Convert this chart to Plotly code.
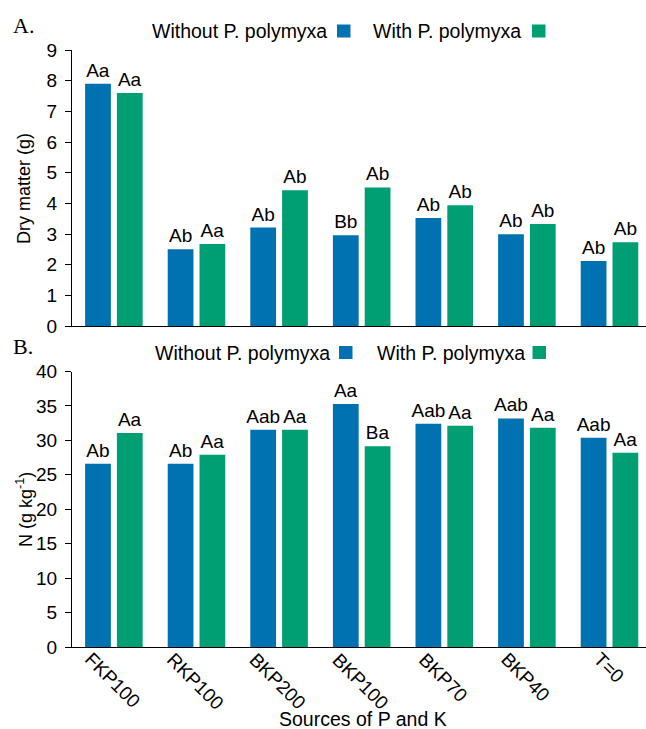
import plotly.graph_objects as go

# Treatments (sources of P and K)
sources = ["FKP100", "RKP100", "BKP200", "BKP100", "BKP70", "BKP40", "T=0"]

# Panel A: dry matter (g)
dm_without = [7.9, 2.5, 3.21, 2.96, 3.52, 2.99, 2.12]
dm_with = [7.6, 2.67, 4.43, 4.52, 3.94, 3.33, 2.73]
dm_lbl_without = ["Aa", "Ab", "Ab", "Bb", "Ab", "Ab", "Ab"]
dm_lbl_with = ["Aa", "Aa", "Ab", "Ab", "Ab", "Ab", "Ab"]

# Panel B: N content (g kg-1)
n_without = [26.6, 26.6, 31.55, 35.27, 32.42, 33.19, 30.39]
n_with = [31.07, 27.93, 31.55, 29.13, 32.13, 31.84, 28.22]
n_lbl_without = ["Ab", "Ab", "Aab", "Aa", "Aab", "Aab", "Aab"]
n_lbl_with = ["Aa", "Aa", "Aa", "Ba", "Aa", "Aa", "Aa"]

series_names = ["Without P. polymyxa", "With P. polymyxa"]

BLUE = "#0072B2"
GREEN = "#009E73"
FONT = "Liberation Sans, Arial, sans-serif"
SERIF = "Liberation Serif, Times New Roman, serif"

W, H = 646, 729
L, R = 72, 646  # plot area horizontal extent in pixels


def fx(p):
    return (p - L) / (R - L)


def fy(p):
    return (H - p) / H


fig = go.Figure()

panels = [
    ("x", "y", dm_without, dm_with, dm_lbl_without, dm_lbl_with),
    ("x2", "y2", n_without, n_with, n_lbl_without, n_lbl_with),
]
for xa, ya, v0, v1, t0, t1 in panels:
    for vals, lbls, color, name in ((v0, t0, BLUE, series_names[0]),
                                    (v1, t1, GREEN, series_names[1])):
        fig.add_trace(go.Bar(
            x=sources, y=vals, text=lbls, name=name,
            marker=dict(color=color, line=dict(width=0)),
            textposition="outside", constraintext="none", cliponaxis=False,
            textfont=dict(family=FONT, size=19, color="black"),
            xaxis=xa, yaxis=ya, showlegend=False,
        ))

# category index range so group centres sit 82.6 px apart
xrange = [-0.507, 6.442]
axis_common = dict(showline=True, linecolor="black", linewidth=1,
                   showgrid=False, zeroline=False, automargin=False)
yaxis_common = dict(ticks="outside", ticklen=6, tickcolor="black", tickwidth=1,
                    ticklabelstandoff=4, tickfont=dict(size=19), **axis_common)

fig.update_layout(
    width=W, height=H,
    margin=dict(l=L, r=W - R, t=0, b=0, autoexpand=False),
    plot_bgcolor="white", paper_bgcolor="white",
    barmode="group", bargap=0.23, bargroupgap=0.19,
    font=dict(family=FONT, color="black"),
    showlegend=False,
    xaxis=dict(domain=[0, 1], anchor="y", range=xrange, showticklabels=False,
               ticks="", **axis_common),
    yaxis=dict(domain=[fy(326), fy(50)], anchor="x", range=[0, 9], dtick=1,
               **yaxis_common),
    xaxis2=dict(domain=[0, 1], anchor="y2", range=xrange, showticklabels=False,
                ticks="", **axis_common),
    yaxis2=dict(domain=[fy(647), fy(371.5)], anchor="x2", range=[0, 40], dtick=5,
                **yaxis_common),
)

ann = []
shapes = []

# Legends: label text followed by a colour swatch
for ycen, items in (
    (31, [(150, 337, series_names[0], BLUE), (371, 532, series_names[1], GREEN)]),
    (352.5, [(153, 339, series_names[0], BLUE), (375, 532.5, series_names[1], GREEN)]),
):
    for tx, sx, label, color in items:
        ann.append(dict(text=label, x=fx(tx), y=fy(ycen), xref="paper", yref="paper",
                        xanchor="left", yanchor="middle", showarrow=False,
                        font=dict(size=19.5, color="black")))
        shapes.append(dict(type="rect", xref="paper", yref="paper",
                           x0=fx(sx), x1=fx(sx + 13.5), y0=fy(ycen + 6.5), y1=fy(ycen - 6.5),
                           fillcolor=color, line=dict(width=0)))

# Panel letters
ann.append(dict(text="A.", x=fx(11), y=fy(26), xref="paper", yref="paper",
                xanchor="left", yanchor="middle", showarrow=False,
                font=dict(family=SERIF, size=22, color="black")))
ann.append(dict(text="B.", x=fx(11), y=fy(346), xref="paper", yref="paper",
                xanchor="left", yanchor="middle", showarrow=False,
                font=dict(family=SERIF, size=22, color="black")))

# Y axis titles
ann.append(dict(text="Dry matter (g)", x=fx(24), y=fy(188), xref="paper", yref="paper",
                textangle=-90, showarrow=False, xanchor="center", yanchor="middle",
                font=dict(size=18, color="black")))
ann.append(dict(text="N (g kg<sup>-1</sup>)", x=fx(25), y=fy(510), xref="paper", yref="paper",
                textangle=-90, showarrow=False, xanchor="center", yanchor="middle",
                font=dict(size=18, color="black")))

# Rotated category labels under panel B
for s in sources:
    ann.append(dict(text=s, x=s, y=fy(646), xref="x2", yref="paper",
                    textangle=45, showarrow=False, xanchor="center", yanchor="top",
                    xshift=-1, font=dict(size=19, color="black")))

# X axis title
ann.append(dict(text="Sources of P and K", x=fx(363), y=fy(719), xref="paper", yref="paper",
                showarrow=False, xanchor="center", yanchor="middle",
                font=dict(size=19.5, color="black")))

fig.update_layout(annotations=ann, shapes=shapes)

fig.write_html("out.html")
